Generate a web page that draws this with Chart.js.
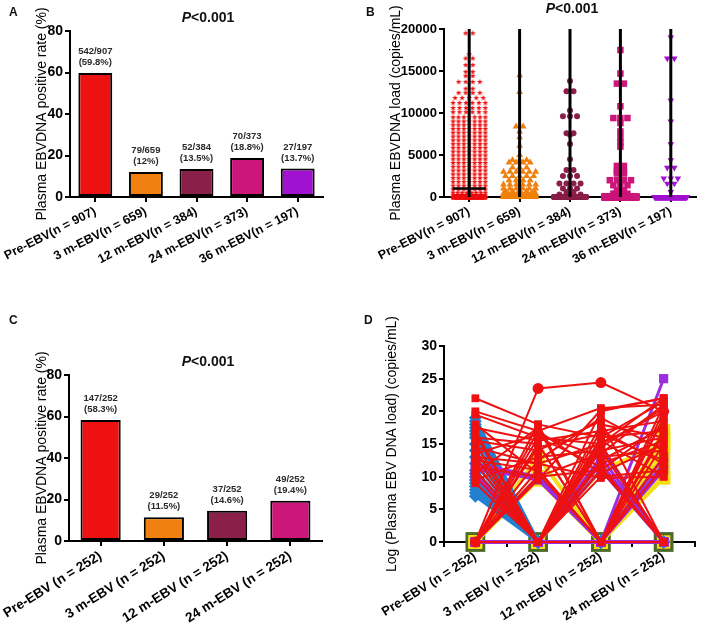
<!DOCTYPE html>
<html lang="en">
<head>
  <meta charset="UTF-8" />
  <title>Plasma EBV DNA after treatment</title>
  <script src="https://cdn.jsdelivr.net/npm/chart.js"></script>
  <style>
    body {
      margin: 0;
      background: #fff;
      font-family: 'Liberation Sans', Arial, sans-serif;
    }
    .wrap {
      position: relative;
      width: 709px;
      height: 626px;
      overflow: hidden;
    }
    canvas {
      position: absolute;
    }
    .tag {
      position: absolute;
      font-weight: bold;
      font-size: 12px;
      color: #111;
    }
    .pval {
      position: absolute;
      font-weight: bold;
      font-size: 14px;
      color: #111;
      white-space: nowrap;
      transform: translate(-50%, -50%);
    }
  </style>
</head>
<body>
  <div class="wrap">
    <canvas id="chartA" width="354" height="313" style="left:0;top:0"></canvas>
    <canvas id="chartB" width="355" height="313" style="left:354px;top:0"></canvas>
    <canvas id="chartC" width="354" height="313" style="left:0;top:313px"></canvas>
    <canvas id="chartD" width="355" height="313" style="left:354px;top:313px"></canvas>

    <div class="tag" style="left:9px;top:5px">A</div>
    <div class="tag" style="left:366px;top:5px">B</div>
    <div class="tag" style="left:9px;top:313px">C</div>
    <div class="tag" style="left:364px;top:313px">D</div>

    <div class="pval" style="left:208px;top:17px"><i>P</i>&lt;0.001</div>
    <div class="pval" style="left:572px;top:8px"><i>P</i>&lt;0.001</div>
    <div class="pval" style="left:208px;top:361px"><i>P</i>&lt;0.001</div>
  </div>

  <script>
    // ---- data ----
    const labels5 = ['Pre-EBV(n = 907)', '3 m-EBV(n = 659)', '12 m-EBV(n = 384)', '24 m-EBV(n = 373)', '36 m-EBV(n = 197)'];
    const labels4 = ['Pre-EBV (n = 252)', '3 m-EBV (n = 252)', '12 m-EBV (n = 252)', '24 m-EBV (n = 252)'];
    const groupColors = ['#ee1111', '#f0800f', '#8a2049', '#cc1679', '#a012cf'];

    // A: positive rate, whole cohort
    const rateA = [59.8, 12, 13.5, 18.8, 13.7];
    const fracA = ['542/907', '79/659', '52/384', '70/373', '27/197'];

    // C: positive rate, 252 patients followed at every time point
    const rateC = [58.3, 11.5, 14.6, 19.4];
    const fracC = ['147/252', '29/252', '37/252', '49/252'];

    // B: EBV DNA load, value levels and how many dots sit on each level
    const preLevels = [19500, 17000, 16500, 15700, 14900, 14400, 13700, 12900, 12400, 11800, 11200, 10600, 10100, 9500,
      9000, 8550, 8100, 7650, 7200, 6750, 6300, 5850, 5400, 4950, 4500, 4050, 3600, 3150, 2700, 2250,
      1800, 1350, 900, 500, 200, 0];
    const preCounts = [2, 1, 2, 2, 2, 2, 4, 2, 4, 5, 6, 6, 6, 7,
      7, 7, 7, 7, 7, 7, 7, 7, 7, 7, 7, 7, 7, 7, 7, 7,
      7, 7, 7, 8, 9, 365];
    const m3Levels = [14500, 12500, 8400, 7800, 7100, 6100, 5000, 4400, 4100, 3500, 3000, 2500, 2000, 1500, 1000, 700, 400, 150, 0];
    const m3Counts = [1, 1, 2, 1, 1, 1, 1, 3, 4, 3, 6, 5, 4, 6, 6, 5, 8, 9, 580];
    const m12Levels = [13800, 12600, 10300, 9600, 7600, 7400, 6300, 4500, 3200, 2500, 1600, 1000, 600, 300, 0];
    const m12Counts = [1, 2, 1, 3, 2, 1, 1, 1, 2, 3, 4, 3, 2, 4, 332];
    const m24Levels = [17500, 14700, 13500, 10800, 9400, 8800, 7800, 7100, 6500, 6000, 3700, 3100, 2800, 2000, 1400, 800, 400, 0];
    const m24Counts = [1, 1, 2, 1, 3, 1, 1, 1, 1, 1, 2, 2, 2, 4, 3, 2, 3, 303];
    const m36Levels = [19000, 16500, 11500, 9000, 6300, 4400, 3500, 2200, 1600, 600, 0];
    const m36Counts = [1, 2, 1, 1, 1, 1, 2, 3, 2, 1, 170];
    const rangeMax = [20000, 20000, 20000, 20000, 20000];
    const preMedian = 1000;

    // D: log load per patient at Pre, 3 m, 12 m, 24 m
    const redSeries = [
      [0, 23.5, 24.4, 20], [22, 18, 16, 17], [20, 17, 20.5, 21], [19.5, 16, 15, 22],
      [17.5, 15.5, 17, 18.5], [17, 0, 14, 16], [16, 15, 0, 19], [15.5, 14, 18.5, 0],
      [15, 0, 16, 21.5], [14.5, 12, 15, 20], [14, 0, 0, 17], [13.5, 16.5, 13, 14],
      [13, 0, 12, 15.5], [12.5, 11, 0, 13], [12, 0, 20, 22], [11.5, 10, 11, 0],
      [11, 0, 17, 12], [10.5, 17.5, 0, 16.5], [10, 0, 10, 11], [9.5, 13, 14, 0],
      [9, 0, 15.5, 10], [0, 17, 10.5, 15], [0, 15, 0, 19], [0, 12.5, 19, 14],
      [0, 10, 13.5, 21], [0, 16, 11.5, 0], [0, 11, 0, 20], [0, 14.5, 16.5, 12.5],
      [16.5, 0, 12.5, 17.5], [18, 10.5, 0, 11.5], [0, 0, 18, 16], [0, 0, 14.5, 20.5],
      [0, 0, 11, 18], [0, 0, 0, 21], [0, 0, 0, 15], [13, 12, 9.8, 10],
      [0, 9.5, 20.2, 22], [0, 0, 15, 0], [14, 0, 0, 0], [0, 18, 0, 0]
    ];
    const blueSeries = [
      [19, 0, 0, 0], [18.5, 0, 0, 0], [18, 0, 0, 0], [17.5, 0, 0, 0], [17, 0, 0, 0],
      [16.5, 0, 0, 0], [16, 0, 0, 0], [15, 0, 0, 0], [14, 0, 0, 0], [13, 0, 0, 0],
      [12, 0, 0, 0], [11, 0, 0, 0], [10.5, 0, 0, 0], [10, 0, 0, 0], [9.5, 0, 0, 0],
      [9, 0, 0, 0], [8.5, 0, 0, 0], [8, 0, 0, 0], [7.5, 0, 0, 0], [7, 0, 0, 0]
    ];
    const purpleSeries = [
      [12, 10, 0, 0], [11.5, 9.5, 0, 0], [11, 9.8, 0, 0], [10.5, 0, 0, 0], [10, 0, 0, 0],
      [0, 0, 0, 25], [0, 0, 13, 0], [0, 0, 12, 0], [0, 0, 14.5, 0], [0, 0, 11, 0],
      [0, 0, 0, 12], [0, 0, 0, 11], [0, 10, 0, 13], [0, 0, 0, 0]
    ];
    const yellowSeries = [
      [0, 9.5, 0, 0], [0, 10, 0, 10], [0, 9.8, 0, 17], [0, 13, 0, 16],
      [0, 0, 0, 14], [0, 0, 0, 12], [0, 0, 0, 9.8], [0, 0, 11, 15]
    ];
    const greenSeries = [[0, 0, 0, 0]];

    // ---- helpers ----
    const FONT = "'Liberation Sans', Arial, sans-serif";
    Chart.defaults.font.family = FONT;
    Chart.defaults.color = '#000';

    function yAxis(max, step, left, title, size) {
      return {
        min: 0,
        max: max,
        ticks: {
          stepSize: step, color: '#000', padding: 2,
          font: { size: size, weight: 'bold' },
          callback: v => String(v)
        },
        grid: { drawOnChartArea: false, drawTicks: true, tickLength: 5, color: '#000', lineWidth: 2 },
        border: { color: '#000', width: 2 },
        title: { display: true, text: title, color: '#000', font: { size: 14 } },
        afterFit: s => { s.width = left; }
      };
    }

    function xTicks(rot, size) {
      return {
        color: '#000', autoSkip: false, minRotation: rot, maxRotation: rot, padding: 2,
        font: { size: size, weight: 'bold' }
      };
    }

    function fixX(height) {
      return s => { s.height = height; s.paddingLeft = 0; s.paddingRight = 0; };
    }

    const barNotes = {
      id: 'barNotes',
      afterDatasetsDraw(chart, args, opts) {
        const ctx = chart.ctx;
        const meta = chart.getDatasetMeta(0);
        ctx.save();
        ctx.font = 'bold 9.5px ' + FONT;
        ctx.fillStyle = '#2a2a2a';
        ctx.textAlign = 'center';
        ctx.textBaseline = 'middle';
        meta.data.forEach((bar, i) => {
          ctx.fillText(opts.fractions[i], bar.x, bar.y - 21.5);
          ctx.fillText('(' + opts.values[i] + '%)', bar.x, bar.y - 10.5);
        });
        ctx.restore();
      }
    };

    function barChart(id, labels, values, fractions, pad, yLeft, xHeight, rot, size, pct) {
      return new Chart(document.getElementById(id), {
        type: 'bar',
        data: {
          labels: labels,
          datasets: [{
            data: values,
            backgroundColor: groupColors.slice(0, values.length),
            borderColor: '#000',
            borderWidth: 2,
            borderSkipped: false,
            categoryPercentage: 1,
            barPercentage: pct
          }]
        },
        options: {
          responsive: false,
          animation: false,
          layout: { padding: pad },
          plugins: {
            legend: { display: false },
            tooltip: { enabled: false },
            barNotes: { fractions: fractions, values: values }
          },
          scales: {
            x: {
              ticks: xTicks(rot, size),
              grid: { drawOnChartArea: false, drawTicks: true, tickLength: 5, color: '#000', lineWidth: 2, offset: false },
              border: { color: '#000', width: 2 },
              afterFit: fixX(xHeight)
            },
            y: yAxis(80, 20, yLeft, 'Plasma EBVDNA positive rate (%)', 14)
          }
        },
        plugins: [barNotes]
      });
    }

    // ---- A ----
    barChart('chartA', labels5, rateA, fracA, { left: 30, top: 31, right: 31, bottom: 0 }, 40, 116, 27, 12.5, 0.67);

    // ---- C ----
    barChart('chartC', labels4, rateC, fracC, { left: 30, top: 62, right: 32, bottom: 0 }, 39, 85, 32, 13.5, 0.635);

    // ---- B ----
    function makeStar(color, size) {
      const c = document.createElement('canvas');
      c.width = size;
      c.height = size;
      const g = c.getContext('2d');
      g.fillStyle = color;
      g.beginPath();
      for (let i = 0; i < 10; i++) {
        const r = i % 2 ? size * 0.21 : size / 2;
        const a = -Math.PI / 2 + i * Math.PI / 5;
        g.lineTo(size / 2 + r * Math.cos(a), size / 2 + r * Math.sin(a));
      }
      g.closePath();
      g.fill();
      return c;
    }

    // dots on one level are placed side by side around the category
    function swarm(cat, levels, counts) {
      const pts = [];
      levels.forEach((v, j) => {
        const n = counts[j];
        const step = n > 1 ? Math.min(0.14, 0.64 / (n - 1)) : 0;
        for (let k = 0; k < n; k++) pts.push({ x: cat + (k - (n - 1) / 2) * step, y: v });
      });
      return pts;
    }

    const groupsB = [
      { levels: preLevels, counts: preCounts, style: makeStar(groupColors[0], 6), r: 3 },
      { levels: m3Levels, counts: m3Counts, style: 'triangle', r: 4 },
      { levels: m12Levels, counts: m12Counts, style: 'circle', r: 3 },
      { levels: m24Levels, counts: m24Counts, style: 'rect', r: 4.6 },
      { levels: m36Levels, counts: m36Counts, style: 'triangle', r: 3.8, rot: 180 }
    ];

    const datasetsB = [];
    rangeMax.forEach((mx, i) => {
      datasetsB.push({
        data: [{ x: i, y: 0 }, { x: i, y: mx }],
        showLine: true, borderColor: '#000', borderWidth: 3, pointRadius: 0, order: 0, clip: false
      });
    });
    datasetsB.push({
      data: [{ x: -0.33, y: preMedian }, { x: 0.33, y: preMedian }],
      showLine: true, borderColor: '#000', borderWidth: 2.5, pointRadius: 0, order: 0, clip: false
    });
    groupsB.forEach((g, i) => {
      datasetsB.push({
        data: swarm(i, g.levels, g.counts),
        pointStyle: g.style,
        pointRadius: g.r,
        pointRotation: g.rot || 0,
        pointBackgroundColor: groupColors[i],
        pointBorderWidth: 0,
        order: 1,
        clip: false
      });
    });

    new Chart(document.getElementById('chartB'), {
      type: 'scatter',
      data: { datasets: datasetsB },
      options: {
        responsive: false,
        animation: false,
        layout: { padding: { left: 30, top: 29, right: 13, bottom: 0 } },
        plugins: { legend: { display: false }, tooltip: { enabled: false } },
        scales: {
          x: {
            type: 'linear',
            min: -0.5,
            max: 4.5,
            afterBuildTicks: s => { s.ticks = labels5.map((l, i) => ({ value: i })); },
            ticks: Object.assign(xTicks(27, 12.5), { callback: v => labels5[v] }),
            grid: { drawOnChartArea: false, drawTicks: true, tickLength: 5, color: '#000', lineWidth: 2 },
            border: { color: '#000', width: 2 },
            afterFit: fixX(116)
          },
          y: yAxis(20000, 5000, 60, 'Plasma EBVDNA load (copies/mL)', 13)
        }
      }
    });

    // ---- D ----
    const datasetsD = [];
    function addLines(list, color, width, style, radius, order) {
      list.forEach((vals, i) => {
        datasetsD.push({
          data: vals,
          borderColor: color,
          backgroundColor: color,
          borderWidth: width,
          pointStyle: typeof style === 'function' ? style(i) : style,
          pointRadius: radius,
          pointBorderWidth: 0,
          pointBackgroundColor: color,
          order: order,
          clip: false
        });
      });
    }
    addLines(redSeries, '#ee1111', 2, i => (i === 0 ? 'circle' : 'rect'), 5.5, 1);
    addLines(purpleSeries, '#9b2fe0', 3, 'rect', 6.5, 2);
    addLines(blueSeries, '#2280d0', 3, 'rectRot', 6.5, 3);
    addLines(yellowSeries, '#f5df12', 4, 'rect', 9.5, 4);
    addLines(greenSeries, '#4d6b27', 3, 'rect', 14, 5);

    new Chart(document.getElementById('chartD'), {
      type: 'line',
      data: { labels: labels4, datasets: datasetsD },
      options: {
        responsive: false,
        animation: false,
        layout: { padding: { left: 26, top: 33, right: 2, bottom: 0 } },
        plugins: { legend: { display: false }, tooltip: { enabled: false } },
        scales: {
          x: {
            offset: true,
            ticks: xTicks(32, 13),
            grid: { drawOnChartArea: false, drawTicks: true, tickLength: 5, color: '#000', lineWidth: 2, offset: true },
            border: { color: '#000', width: 2 },
            afterFit: fixX(84)
          },
          y: yAxis(30, 5, 64, 'Log (Plasma EBV DNA load) (copies/mL)', 14)
        }
      }
    });
  </script>
</body>
</html>
